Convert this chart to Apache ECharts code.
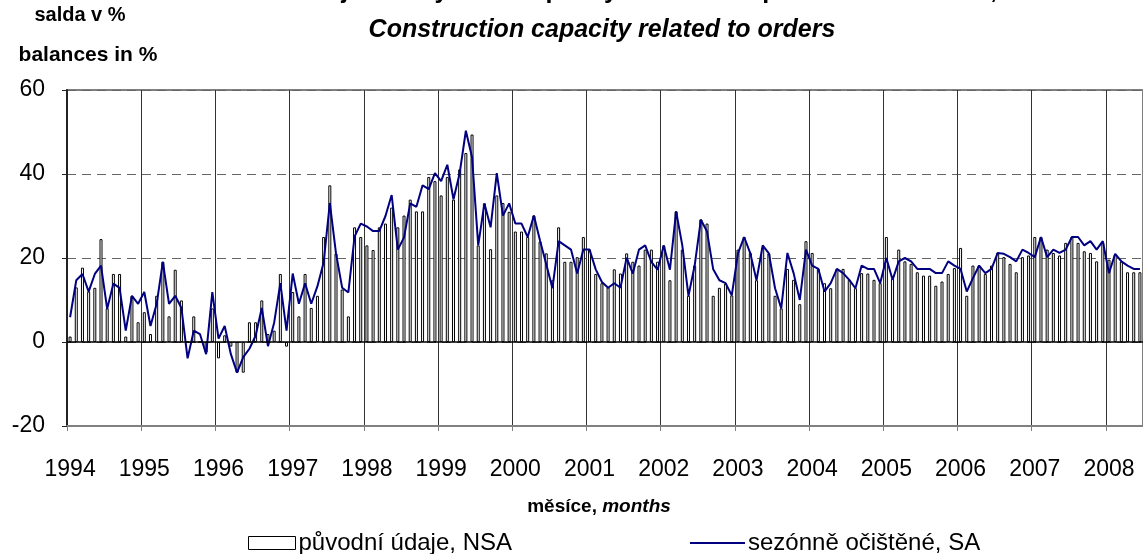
<!DOCTYPE html>
<html>
<head>
<meta charset="utf-8">
<script src="https://cdn.jsdelivr.net/npm/echarts@6/dist/echarts.min.js"></script>
<style>
html, body { margin: 0; padding: 0; background: #fff; }
#chart { width: 1143px; height: 554px; }
</style>
</head>
<body>
<div id="chart"></div>
<script>
// roky na ose x (měsíční data od 1/1994 do 6/2008)
var years = ['1994', '1995', '1996', '1997', '1998', '1999', '2000', '2001',
             '2002', '2003', '2004', '2005', '2006', '2007', '2008'];
var monthsInLastYear = 6;

// původní údaje, NSA
var nsa = [
  1.3, 13, 17.7, 12, 12.9, 24.5, 8, 16.2, 16.2, 1.3, 11, 4.7,
  7.1, 1.9, 11, 19.1, 6.1, 17.2, 9.9, 0, 6.1, 0, -2.5, 8,
  -3.9, 1.6, -1.1, -7.3, -7.3, 4.7, 4.7, 9.9, 1.9, 2.7, 16.2, -1.1,
  11.9, 6.1, 16.2, 8.1, 11, 25, 37.3, 21.1, 12.5, 6.1, 27.3, 25,
  23, 21.9, 27.3, 28.2, 32, 27.3, 30.1, 33.9, 31.1, 31.1, 39.3, 38.3,
  34.9, 39.3, 33.9, 41.1, 45, 49.4, 23, 33, 22.1, 34.9, 33.1, 31,
  26.3, 26.3, 25, 30.1, 23.9, 21.1, 14.7, 27.3, 19.1, 19.1, 20.2, 25,
  22, 16.2, 14, 13, 17.3, 16.3, 21.1, 19.1, 18.2, 22, 22, 19.1,
  23, 14.7, 31.1, 22, 11, 18.2, 29.2, 28.2, 11, 12.9, 13.9, 11.1,
  22, 25, 21.2, 14.7, 22.5, 21.1, 11, 8, 17.4, 14.8, 9, 24,
  21.2, 17.4, 14, 12.8, 17.4, 17.4, 14.8, 12.8, 16.4, 16.3, 14.8, 14,
  25, 15, 22, 19.2, 18.6, 16.6, 15.8, 15.8, 13.4, 14.4, 16.2, 17.6,
  22.4, 11, 18.2, 18.2, 16.2, 18.2, 21.2, 20.2, 18.6, 16.6, 20.2, 20.6,
  25, 25, 22, 21.2, 20.6, 23.6, 25, 23.6, 21.6, 21.2, 19.2, 23.6,
  19.6, 20.8, 19.2, 16.6, 16.6, 16.6
];

// sezónně očištěné, SA
var sa = [
  5.9, 14.7, 16.2, 12, 16.2, 18.2, 7.9, 13.9, 12.9, 2.7, 11, 9.1,
  11.9, 3.8, 9.1, 19.1, 9.1, 11, 8.1, -3.9, 2.7, 1.9, -2.9, 11.9,
  0.8, 3.8, -2.9, -7.3, -3.6, -1.6, 1.5, 8.1, -1, 4.6, 14, 2.7,
  16.3, 9.1, 14, 9.1, 13.3, 18.9, 33.1, 21.1, 12.9, 11.8, 25.1, 28.2,
  27.5, 26.4, 26.4, 30, 35, 22, 24.9, 33, 32.2, 37.3, 36.4, 40.2,
  38.3, 42.2, 34, 40.2, 50.3, 44, 23, 33, 27.3, 40.2, 30.1, 33,
  28.2, 28.2, 25, 30.1, 24.1, 18.5, 12.8, 24, 23, 22, 16.3, 22,
  22, 17.3, 14.3, 12.9, 14, 12.9, 20.1, 16.3, 22, 23, 19.1, 17.2,
  23, 17.2, 31.1, 23, 11, 18.2, 29.1, 26.3, 17.3, 14.7, 14, 11.1,
  21.1, 25, 21.1, 14.7, 23, 21.1, 12.8, 8, 21.2, 16.4, 10, 22,
  18.2, 17.4, 12, 14, 17.4, 16.4, 14.8, 12.8, 18.2, 17.4, 17.4, 14,
  20, 14.8, 19.2, 20, 19.2, 17.4, 17.4, 17.4, 16.4, 16.4, 19.2, 18.2,
  17.4, 12, 15.2, 18.2, 16.4, 17.4, 21.2, 21, 20.2, 19.2, 22, 21.2,
  20.2, 25, 20.2, 22, 21.2, 22, 25, 25, 23, 24, 22, 24,
  16.4, 21, 19.2, 18.2, 17.4, 17.4
];

var yTicks = { min: -20, max: 60, interval: 20 };

// kategorie = měsíce
var months = [];
years.forEach(function (y, k) {
  var n = (k == years.length - 1) ? monthsInLastYear : 12;
  for (var m = 1; m <= n; m++) {
    months.push(y + '-' + (m < 10 ? '0' + m : m));
  }
});

var FONT = 'Liberation Sans, Arial, sans-serif';
var myChart = echarts.init(document.getElementById('chart'));

var option = {
  animation: false,
  backgroundColor: '#fff',
  textStyle: { fontFamily: FONT, color: '#000' },
  grid: {
    left: 67, top: 90, right: -3, bottom: 128,
    show: true, borderColor: '#808080', borderWidth: 2
  },
  graphic: [
    // horní řádek nadpisu je v originále oříznutý
    { type: 'text', x: 588, y: 4,
      style: { text: 'Hodnocení zajištění výrobní kapacity stavebních podniků zakázkami,',
               font: 'bold 25px ' + FONT, fill: '#000', align: 'center', verticalAlign: 'bottom' } },
    { type: 'text', x: 602, y: 30,
      style: { text: 'Construction capacity related to orders', font: 'italic bold 25px ' + FONT,
               fill: '#000', align: 'center', verticalAlign: 'middle' } },
    { type: 'text', x: 80, y: 15,
      style: { text: 'salda v %', font: 'bold 20px ' + FONT, fill: '#000', align: 'center', verticalAlign: 'middle' } },
    { type: 'text', x: 88, y: 55,
      style: { text: 'balances in %', font: 'bold 21px ' + FONT, fill: '#000', align: 'center', verticalAlign: 'middle' } },
    { type: 'text', x: 599, y: 507,
      style: { text: '{a|měsíce, }{b|months}', align: 'center', verticalAlign: 'middle',
               rich: { a: { fontFamily: FONT, fontWeight: 'bold', fontSize: 19 },
                       b: { fontFamily: FONT, fontWeight: 'bold', fontStyle: 'italic', fontSize: 19 } } } }
  ],
  legend: [
    { left: 243, top: 526, itemWidth: 47, itemHeight: 13, itemGap: 4,
      textStyle: { fontSize: 24, fontFamily: FONT, color: '#000', padding: [0, 0, 0, -2] },
      data: [{ name: 'původní údaje, NSA', icon: 'rect',
               itemStyle: { color: '#fff', borderColor: '#000', borderWidth: 1 } }] },
    { left: 685, top: 526, itemWidth: 55, itemHeight: 2, itemGap: 4,
      textStyle: { fontSize: 24, fontFamily: FONT, color: '#000', padding: [0, 0, 0, -2] },
      data: [{ name: 'sezónně očištěné, SA', icon: 'rect', itemStyle: { color: '#000080' } }] }
  ],
  xAxis: {
    type: 'category',
    data: months,
    boundaryGap: true,
    axisLine: { onZero: false, lineStyle: { color: '#808080', width: 2 } },
    axisTick: { show: true, interval: 11, length: 5, lineStyle: { color: '#808080' } },
    axisLabel: {
      interval: 11, margin: 32, fontSize: 23, fontFamily: FONT, color: '#000',
      formatter: function (v) { return v.slice(0, 4); }
    },
    splitLine: { show: true, interval: 11, lineStyle: { color: '#333', width: 1 } }
  },
  yAxis: {
    type: 'value',
    min: yTicks.min, max: yTicks.max, interval: yTicks.interval,
    axisLine: { show: true, lineStyle: { color: '#222', width: 2 } },
    axisTick: { show: true, length: 5, lineStyle: { color: '#222' } },
    axisLabel: { fontSize: 23, fontFamily: FONT, color: '#000', margin: 22 },
    splitLine: { show: true, lineStyle: { color: '#666', width: 1, type: [9, 6] } }
  },
  series: [
    {
      name: 'původní údaje, NSA',
      type: 'bar',
      data: nsa,
      barWidth: 3,
      itemStyle: { color: '#fff', borderColor: '#000', borderWidth: 1 },
      markLine: {
        silent: true, symbol: 'none', label: { show: false },
        lineStyle: { color: '#000', type: 'solid', width: 1.5 },
        data: [{ yAxis: 0 }]
      },
      z: 2
    },
    {
      name: 'sezónně očištěné, SA',
      type: 'line',
      data: sa,
      symbol: 'none',
      lineStyle: { color: '#000080', width: 2 },
      itemStyle: { color: '#000080' },
      z: 3
    }
  ]
};
myChart.setOption(option);
</script>
</body>
</html>
